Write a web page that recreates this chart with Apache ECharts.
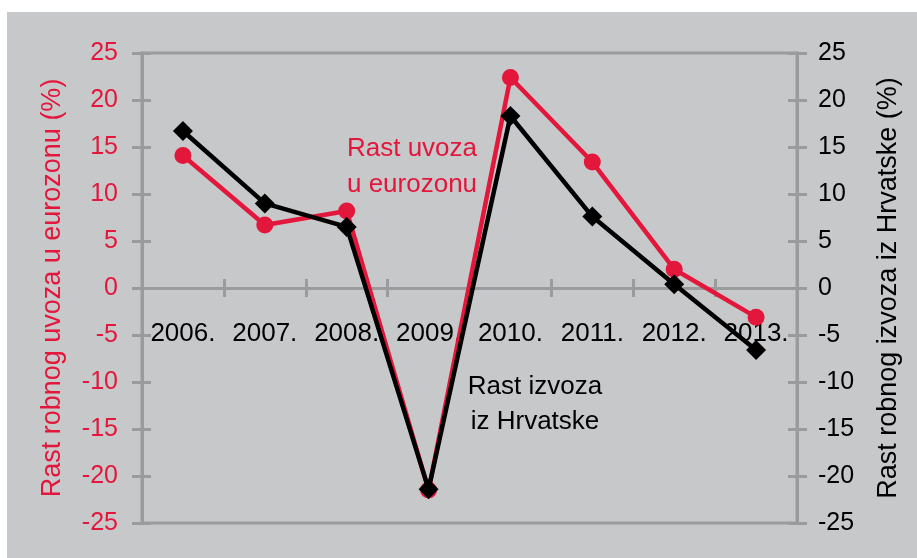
<!DOCTYPE html>
<html>
<head>
<meta charset="utf-8">
<script src="https://cdn.jsdelivr.net/npm/echarts@6/dist/echarts.min.js"></script>
<style>
  html, body { margin: 0; padding: 0; background: #fff; }
  #chart {
    width: 917px;
    height: 558px;
    background: linear-gradient(#c7c8ca, #c7c8ca) no-repeat 7px 12px / 910px 546px, #fff;
  }
</style>
</head>
<body>
<div id="chart"></div>
<script>
const years = ['2006.', '2007.', '2008.', '2009.', '2010.', '2011.', '2012.', '2013.'];
// uvoz eurozone (lijeva os)
const importsEurozone = [14.1, 6.7, 8.2, -21.5, 22.4, 13.4, 2.0, -3.1];
// izvoz Hrvatske (desna os)
const exportsCroatia = [16.7, 9.0, 6.5, -21.4, 18.3, 7.6, 0.4, -6.6];
const axisMin = -25;
const axisMax = 25;
const axisStep = 5;

const RED = '#e3173b';
const GREY = '#9a9b9d';
const FONT = '"Liberation Sans", Arial, sans-serif';

const GRID_TOP = 53;
const GRID_BOTTOM = 35;
const PLOT_H = 558 - GRID_TOP - GRID_BOTTOM;
// category axis sits on the zero line: shift it up from the bottom edge
const zeroOffset = -PLOT_H * (0 - axisMin) / (axisMax - axisMin);

const chart = echarts.init(document.getElementById('chart'));

const valueAxis = (position, color, extra) => Object.assign({
  type: 'value',
  position: position,
  min: axisMin,
  max: axisMax,
  interval: axisStep,
  splitLine: { show: false },
  axisLine: { show: true, onZero: false, lineStyle: { color: GREY, width: 3 } },
  axisTick: { show: true, length: 10, lineStyle: { color: GREY, width: 3 } },
  axisLabel: { color: color, fontSize: 25, fontFamily: FONT }
}, extra);

const catAxis = (inside) => ({
  type: 'category',
  data: years,
  position: 'bottom',
  offset: zeroOffset,
  boundaryGap: true,
  axisLine: { show: true, onZero: false, lineStyle: { color: GREY, width: 3 } },
  axisTick: { show: true, inside: inside, length: 9, lineStyle: { color: GREY, width: 3 } },
  axisLabel: inside ? { show: false } : { color: '#000', fontSize: 26, fontFamily: FONT, margin: 33, interval: 0 },
  splitLine: { show: false }
});

chart.setOption({
  backgroundColor: 'transparent',
  animation: false,
  grid: {
    left: 142, right: 120, top: GRID_TOP, bottom: GRID_BOTTOM,
    outerBoundsMode: 'none',
    containLabel: false,
    show: true, borderColor: GREY, borderWidth: 3, backgroundColor: 'transparent'
  },
  xAxis: [catAxis(false), catAxis(true)],
  yAxis: [
    valueAxis('left', RED, {
      name: 'Rast robnog uvoza u eurozonu (%)',
      nameLocation: 'middle',
      nameRotate: 90,
      nameGap: 76,
      nameTextStyle: { color: RED, fontSize: 27, fontFamily: FONT },
      axisLabel: { color: RED, fontSize: 25, fontFamily: FONT, margin: 24 }
    }),
    valueAxis('right', '#000', {
      name: 'Rast robnog izvoza iz Hrvatske (%)',
      nameLocation: 'middle',
      nameRotate: 90,
      nameGap: 78,
      nameTextStyle: { color: '#000', fontSize: 27, fontFamily: FONT },
      axisLabel: { color: '#000', fontSize: 25, fontFamily: FONT, margin: 21 }
    }),
    valueAxis('left', RED, { axisTick: { show: true, inside: true, length: 9, lineStyle: { color: GREY, width: 3 } }, axisLabel: { show: false } }),
    valueAxis('right', '#000', { axisTick: { show: true, inside: true, length: 9, lineStyle: { color: GREY, width: 3 } }, axisLabel: { show: false } })
  ],
  graphic: [
    {
      type: 'text', x: 412, y: 131,
      style: { text: 'Rast uvoza\nu eurozonu', fill: RED, font: '26px ' + FONT, align: 'center', lineHeight: 36 }
    },
    {
      type: 'text', x: 535, y: 369,
      style: { text: 'Rast izvoza\niz Hrvatske', fill: '#000', font: '26px ' + FONT, align: 'center', lineHeight: 35 }
    }
  ],
  series: [
    {
      name: 'Rast uvoza u eurozonu',
      type: 'line',
      xAxisIndex: 0,
      yAxisIndex: 0,
      data: importsEurozone,
      symbol: 'circle',
      symbolSize: 17,
      lineStyle: { color: RED, width: 4.5 },
      itemStyle: { color: RED },
      z: 2
    },
    {
      name: 'Rast izvoza iz Hrvatske',
      type: 'line',
      xAxisIndex: 0,
      yAxisIndex: 1,
      data: exportsCroatia,
      symbol: 'diamond',
      symbolSize: [20, 20],
      lineStyle: { color: '#000', width: 4.5 },
      itemStyle: { color: '#000' },
      z: 3
    }
  ]
});
</script>
</body>
</html>
